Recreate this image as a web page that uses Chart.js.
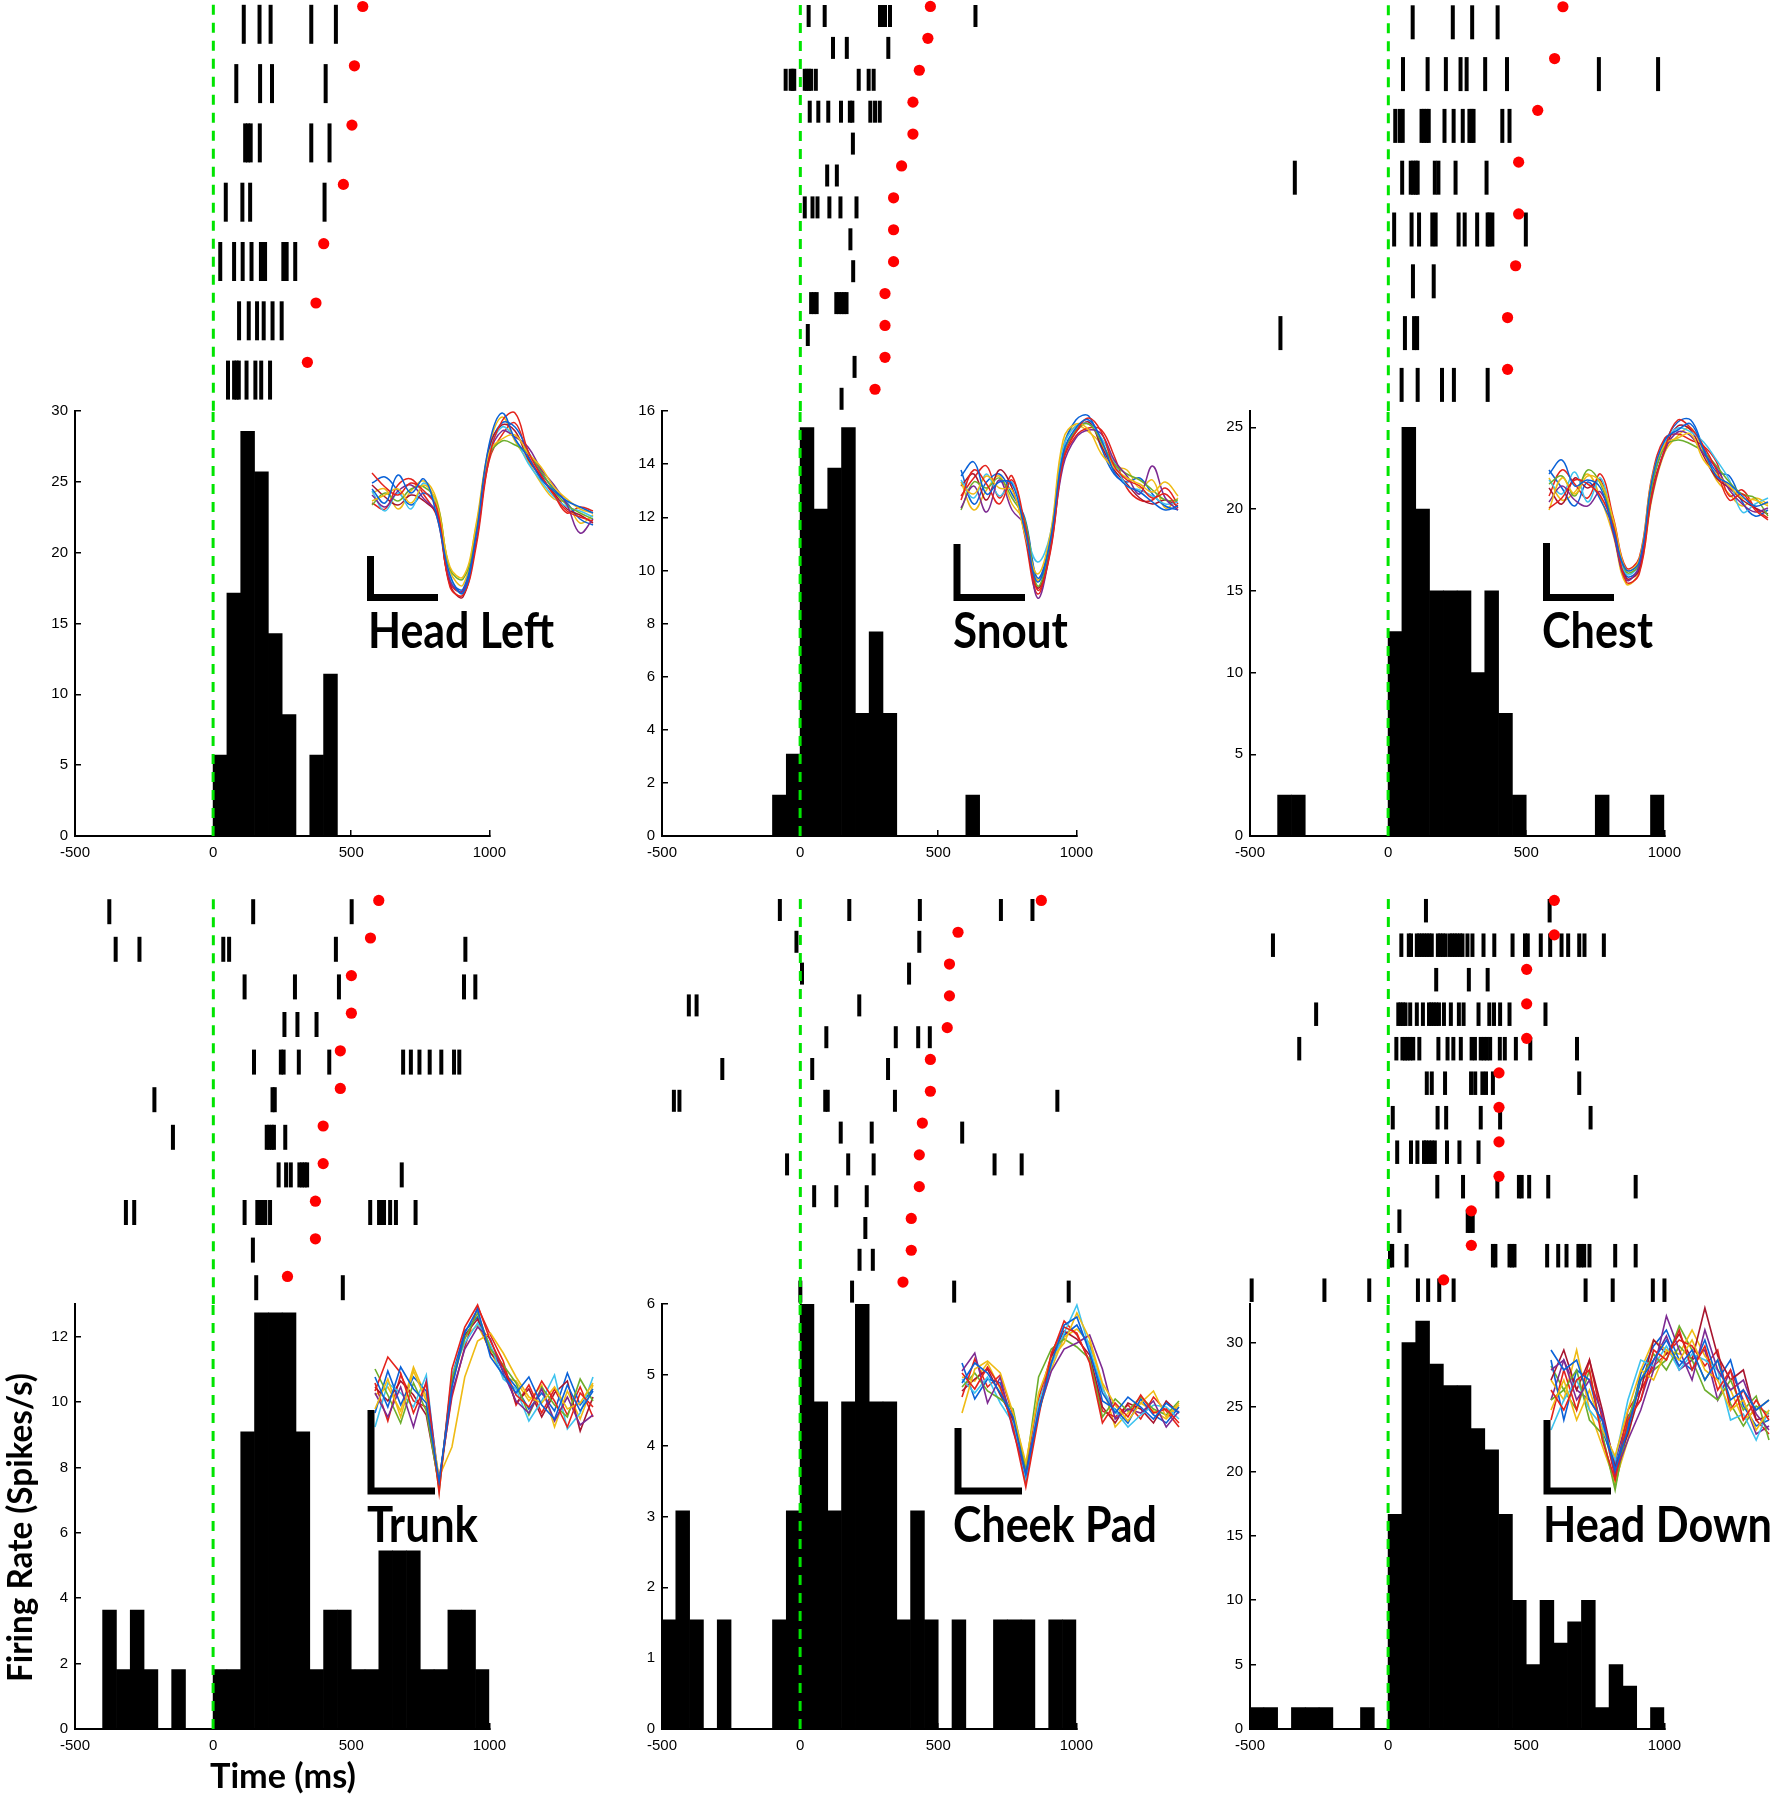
<!DOCTYPE html>
<html>
<head>
<meta charset="utf-8">
<title>Touch responses</title>
<script src="https://cdn.jsdelivr.net/npm/chart.js@4.4.1/dist/chart.umd.min.js"></script>
<style>
  html, body { margin: 0; padding: 0; background: #fff; }
  #page { position: relative; width: 1773px; height: 1800px; overflow: hidden; background: #fff; }
  #page canvas { position: absolute; }
  .lbl { position: absolute; white-space: nowrap; font-family: Lato, 'Open Sans', sans-serif; font-weight: 700; color: #000; line-height: normal; }
</style>
</head>
<body>
<div id="page"></div>
<script>
// PSTH bins (ms), 50 ms wide
const binCenters = [-475, -425, -375, -325, -275, -225, -175, -125, -75, -25, 25, 75, 125, 175, 225, 275, 325, 375, 425, 475, 525, 575, 625, 675, 725, 775, 825, 875, 925, 975];
const timeTicks = [-500, 0, 500, 1000];

// Firing rate per bin (spikes/s)
const rateHeadLeft = [0, 0, 0, 0, 0, 0, 0, 0, 0, 0, 5.71, 17.14, 28.57, 25.71, 14.29, 8.57, 0, 5.71, 11.43, 0, 0, 0, 0, 0, 0, 0, 0, 0, 0, 0];
const rateSnout = [0, 0, 0, 0, 0, 0, 0, 0, 1.54, 3.08, 15.38, 12.31, 13.85, 15.38, 4.62, 7.69, 4.62, 0, 0, 0, 0, 0, 1.54, 0, 0, 0, 0, 0, 0, 0];
const rateChest = [0, 0, 2.5, 2.5, 0, 0, 0, 0, 0, 0, 12.5, 25, 20, 15, 15, 15, 10, 15, 7.5, 2.5, 0, 0, 0, 0, 0, 2.5, 0, 0, 0, 2.5];
const rateTrunk = [0, 0, 3.64, 1.82, 3.64, 1.82, 0, 1.82, 0, 0, 1.82, 1.82, 9.09, 12.73, 12.73, 12.73, 9.09, 1.82, 3.64, 3.64, 1.82, 1.82, 5.45, 5.45, 5.45, 1.82, 1.82, 3.64, 3.64, 1.82];
const rateCheekPad = [1.54, 3.08, 1.54, 0, 1.54, 0, 0, 0, 1.54, 3.08, 6.15, 4.62, 3.08, 4.62, 6.15, 4.62, 4.62, 1.54, 3.08, 1.54, 0, 1.54, 0, 0, 1.54, 1.54, 1.54, 0, 1.54, 1.54];
const rateHeadDown = [1.67, 1.67, 0, 1.67, 1.67, 1.67, 0, 0, 1.67, 0, 16.67, 30, 31.67, 28.33, 26.67, 26.67, 23.33, 21.67, 16.67, 10, 5, 10, 6.67, 8.33, 10, 1.67, 5, 3.33, 0, 1.67];

// y tick labels
const yTicksHeadLeft = [0, 5, 10, 15, 20, 25, 30];
const yTicksSnout = [0, 2, 4, 6, 8, 10, 12, 14, 16];
const yTicksChest = [0, 5, 10, 15, 20, 25];
const yTicksTrunk = [0, 2, 4, 6, 8, 10, 12];
const yTicksCheekPad = [0, 1, 2, 3, 4, 5, 6];
const yTicksHeadDown = [0, 5, 10, 15, 20, 25, 30];

// Spike times per trial (ms)
const rasterHeadLeft = [
  [110, 167, 207, 354, 443],
  [83, 169, 212, 406],
  [115, 125, 135, 168, 354, 420],
  [45, 105, 133, 402],
  [25, 75, 106, 138, 172, 180, 187, 253, 265, 296],
  [93, 128, 158, 182, 214, 247],
  [53, 75, 84, 92, 120, 152, 173, 205]
];
const rasterSnout = [
  [30, 88, 288, 297, 306, 324, 633],
  [118, 168, 318],
  [-53, -35, -28, -22, 16, 23, 31, 39, 56, 211, 247, 265],
  [34, 65, 101, 147, 179, 188, 253, 270, 287],
  [190],
  [97, 132],
  [16, 44, 62, 105, 145, 203],
  [181],
  [191],
  [39, 49, 59, 130, 140, 149, 158, 167],
  [27],
  [196],
  [149]
];
const rasterChest = [
  [88, 233, 303, 395],
  [53, 142, 208, 261, 283, 350, 429, 761, 975],
  [25, 41, 52, 120, 129, 138, 146, 203, 236, 269, 293, 301, 308, 412, 438],
  [-338, 50, 81, 90, 99, 106, 168, 181, 243, 355],
  [21, 84, 111, 159, 171, 254, 276, 321, 359, 365, 376, 497],
  [89, 164],
  [-390, 60, 93, 104],
  [48, 106, 194, 237, 359]
];
const rasterTrunk = [
  [-376, 144, 500],
  [-353, -267, 36, 57, 443, 911],
  [113, 295, 454, 906, 947],
  [257, 304, 373],
  [147, 244, 254, 309, 419, 686, 714, 745, 782, 824, 870, 889],
  [-213, 214, 222],
  [-146, 193, 202, 211, 219, 260],
  [236, 263, 280, 311, 321, 330, 339, 681],
  [-316, -286, 113, 159, 169, 179, 188, 205, 567, 599, 608, 617, 639, 660, 731],
  [143],
  [155, 468]
];
const rasterCheekPad = [
  [-74, 177, 432, 725, 839],
  [-14, 430],
  [6, 393],
  [-403, -375, 213],
  [94, 345, 426, 468],
  [-282, 43, 317],
  [-457, -437, 90, 99, 342, 929],
  [146, 258, 585],
  [-48, 173, 265, 702, 800],
  [50, 130, 240],
  [235],
  [214, 262],
  [0, 187, 556, 970]
];
const rasterHeadDown = [
  [136, 583],
  [-417, 47, 74, 82, 103, 112, 121, 130, 139, 148, 157, 179, 188, 197, 207, 222, 231, 240, 249, 259, 268, 286, 304, 344, 383, 449, 494, 504, 551, 585, 626, 650, 690, 709, 779],
  [173, 291, 359],
  [-261, 36, 44, 53, 62, 79, 103, 125, 147, 155, 164, 173, 183, 201, 226, 255, 272, 326, 365, 382, 404, 438, 568],
  [-322, 29, 51, 60, 69, 79, 90, 112, 181, 214, 235, 262, 301, 313, 334, 345, 356, 368, 403, 421, 461, 513, 682],
  [139, 157, 205, 299, 314, 340, 353, 378, 690],
  [16, 178, 209, 334, 404, 731],
  [32, 82, 105, 129, 136, 147, 157, 168, 212, 257, 326],
  [177, 270, 394, 472, 482, 509, 578, 894],
  [40, 287, 296, 305],
  [6, 14, 66, 378, 387, 438, 447, 456, 574, 614, 644, 687, 697, 708, 727, 820, 894],
  [-494, -231, -69, 107, 144, 184, 236, 713, 811, 956, 998]
];

// Stimulus end per trial (ms), red dots
const markHeadLeft = [540, 510, 501, 470, 399, 371, 340];
const markSnout = [470, 461, 430, 407, 407, 366, 337, 337, 337, 306, 306, 306, 270];
const markChest = [631, 601, 540, 471, 471, 460, 431, 431];
const markTrunk = [598, 568, 499, 499, 459, 459, 397, 397, 369, 369, 268];
const markCheekPad = [871, 570, 539, 539, 531, 470, 470, 441, 430, 430, 401, 401, 371];
const markHeadDown = [600, 600, 500, 500, 500, 400, 400, 400, 400, 300, 300, 200];

// Spike waveforms (a sample of traces per unit, 18 samples each)
const waveHeadLeft = [
  [8, -6, 22, 4, 18, -20, -78, -96, -38, 52, 84, 58, 40, 18, 6, -4, -10, -16],
  [24, 10, 2, 14, 6, -12, -90, -98, -50, 38, 76, 84, 46, 22, 2, -14, -20, -24],
  [-4, 2, 8, -6, 12, -8, -70, -80, -30, 44, 58, 62, 44, 30, 10, -2, -12, -16],
  [2, -10, 6, 12, -2, -16, -84, -94, -46, 40, 66, 60, 50, 28, 12, -8, -36, -22],
  [-8, 4, -4, 8, 10, -6, -72, -82, -36, 40, 56, 52, 44, 26, 6, -8, -16, -22],
  [6, -14, 4, -12, 14, -14, -80, -96, -44, 42, 70, 58, 34, 16, 0, -10, -14, -20],
  [12, 0, -8, 2, -4, -18, -88, -100, -40, 48, 72, 66, 38, 20, 4, -12, -18, -26],
  [14, 20, 6, -8, 4, -10, -82, -92, -34, 46, 74, 70, 46, 24, 8, -6, -22, -28],
  [-6, -12, 12, 18, 2, -20, -86, -94, -42, 36, 62, 74, 42, 20, 2, -16, -10, -14],
  [4, 8, -12, 6, 16, -4, -74, -88, -28, 50, 80, 56, 36, 14, -2, -6, -26, -18]
];
const waveSnout = [
  [14, 28, -4, 8, 6, -40, -92, -50, 36, 62, 70, 50, 18, 4, -2, -12, -20, -16],
  [-10, 20, 6, -14, 10, -34, -100, -62, 30, 58, 72, 58, 24, 10, 4, -8, -4, -18],
  [6, -4, 14, 2, 0, -44, -84, -44, 50, 66, 60, 36, 22, 12, 6, -2, 8, -6],
  [-18, 4, -22, 10, -20, -36, -108, -60, 24, 52, 60, 56, 30, 14, -4, 24, -8, -20],
  [-20, 8, 2, 12, -8, -30, -96, -52, 34, 60, 66, 48, 26, 16, 10, 0, -10, -10],
  [10, -8, 16, -6, 8, -38, -72, -44, 42, 64, 66, 52, 28, 4, 0, -6, -14, -12],
  [4, 16, -10, 20, 2, -42, -98, -56, 36, 58, 68, 44, 20, 6, -8, -14, -10, -16],
  [20, -14, 8, 16, -4, -28, -88, -48, 40, 70, 74, 42, 16, 8, 12, -4, -16, -20],
  [-6, 12, 24, -8, 14, -46, -104, -58, 28, 54, 62, 60, 34, 2, -10, -10, 2, -14],
  [8, -20, 0, 14, -14, -32, -90, -48, 44, 64, 58, 46, 24, 20, 2, 10, -18, -8]
];
const waveChest = [
  [16, 30, 4, 10, 2, -40, -80, -72, 10, 50, 60, 66, 40, 14, 6, -6, -16, -12],
  [-18, -8, 10, 6, -6, -36, -92, -84, -4, 42, 70, 62, 44, 20, -10, -4, -20, -30],
  [-20, 12, -4, 14, 8, -30, -80, -70, 12, 46, 52, 56, 30, 16, 4, -8, -10, -16],
  [-12, 4, -10, -16, -2, -44, -90, -76, -6, 40, 58, 54, 36, 22, 0, -14, -22, -18],
  [6, 14, -6, 20, 6, -34, -82, -74, 4, 44, 50, 46, 38, 24, 8, -4, -8, -26],
  [10, -4, 18, -12, 12, -38, -84, -74, 8, 48, 62, 58, 48, 30, 10, -22, -14, -8],
  [2, -14, 12, 2, 10, -42, -88, -80, 0, 40, 64, 60, 34, 12, 2, -10, -18, -24],
  [20, 2, -16, 8, -10, -38, -86, -78, 6, 46, 68, 70, 42, 18, 14, -12, -26, -20],
  [-6, 20, 6, -8, 16, -28, -78, -68, 14, 52, 56, 50, 44, 28, -6, 0, -18, -28],
  [12, -10, -2, 16, -8, -46, -94, -82, -8, 38, 54, 62, 38, 10, -4, -16, -8, -14]
];
const waveTrunk = [
  [20, -10, 30, 8, -6, -84, 10, 64, 88, 40, 22, 4, 20, -8, -22, 12, -14, 6],
  [6, 40, 24, -16, 14, -96, 28, 70, 92, 56, 30, 2, -10, 16, -4, -30, 4, -10],
  [-12, 18, -20, 26, -4, -80, -50, 20, 56, 64, 44, 20, 0, -6, 10, -12, -6, 14],
  [4, -20, 10, -30, 16, -86, 4, 48, 70, 58, 24, -4, -16, 8, -24, 0, -28, -18],
  [28, 2, -26, 14, -14, -90, 18, 58, 84, 48, 32, 14, -18, 10, -8, -20, 18, -4],
  [-30, 14, 4, -10, 22, -92, 22, 54, 74, 52, 18, 8, -24, -4, 22, -32, -16, 20],
  [10, -4, 16, 2, -18, -88, 14, 62, 78, 44, 30, -6, 8, -20, 4, 16, -34, 0],
  [-16, 26, -8, 20, 6, -90, 20, 66, 80, 50, 26, 10, -12, 4, -14, 24, -8, 8],
  [14, -24, 22, -4, -10, -82, 0, 50, 90, 62, 36, -8, 12, -16, 8, -18, 10, -20],
  [2, 10, -14, 30, 0, -94, 12, 60, 72, 46, 20, 16, -4, 12, -30, 6, -22, 12]
];
const waveCheekPad = [
  [0, 20, 10, -10, -34, -92, -30, 20, 58, 66, 30, -10, -30, -14, -24, -36, -20, -30],
  [10, -6, 16, -4, -44, -104, -34, 30, 56, 50, 20, -40, -20, -34, -12, -30, -26, -40],
  [-30, 14, 22, 10, -30, -80, -10, 24, 40, 70, 44, 0, -22, -38, -20, -8, -34, -20],
  [12, 30, -20, 6, -48, -90, -28, 12, 34, 40, 48, 14, -36, -26, -30, -18, -44, -28],
  [-4, 10, -8, -16, -26, -86, 6, 34, 44, 36, 24, -34, -16, -28, -14, -26, -32, -18],
  [4, -10, 6, -20, -40, -96, -20, 18, 50, 78, 34, -6, -28, -44, -32, -22, -24, -36],
  [-8, 4, 14, -12, -36, -98, -26, 26, 52, 44, 28, -24, -40, -20, -26, -40, -18, -30],
  [20, -16, 4, 0, -38, -94, -24, 22, 48, 58, 36, -18, -26, -40, -16, -32, -40, -24],
  [-14, 24, -4, 8, -32, -88, -16, 28, 62, 48, 22, -28, -34, -22, -36, -14, -28, -44],
  [6, 2, 20, -6, -42, -100, -30, 14, 46, 54, 40, -2, -44, -30, -20, -28, -36, -22]
];
const waveHeadDown = [
  [40, 20, 30, -10, -30, -80, -40, 10, 30, 50, 24, 40, 10, 30, -10, 0, -20, -10],
  [0, -20, 10, 20, -50, -90, -30, -10, 40, 30, 60, 20, 44, 0, 20, -30, -10, -30],
  [-20, 10, -30, 0, -40, -66, -20, 20, 10, 40, 30, 50, 20, 10, -20, -10, -40, -20],
  [20, 30, -10, 10, -24, -84, -50, -20, 20, 74, 40, 10, 60, 20, 0, 10, -24, -40],
  [-10, 0, 20, -30, -44, -100, -30, 10, 36, 20, 44, 30, 0, -10, 10, -20, -6, -50],
  [-40, -10, 10, -20, -36, -70, -10, 30, 24, 44, 20, 36, 30, 20, -30, -24, -50, -20],
  [10, 40, 0, 30, -20, -78, -44, 0, 50, 36, 56, 30, 82, 34, 10, 20, -30, -26],
  [30, -30, 20, 10, -40, -76, -36, 16, 44, 60, 30, 20, 50, 10, 30, -16, -36, -30],
  [-30, 20, -20, 30, -30, -88, -20, 0, 24, 36, 50, 44, 24, 40, -20, 0, -30, -44],
  [10, -10, 40, -20, -56, -92, -50, 20, 50, 40, 36, 60, 34, 20, 0, -30, -20, -10],
  [-10, 30, 0, -10, -30, -72, -26, -10, 30, 54, 20, 30, 40, -10, 20, -10, -44, -36],
  [24, 0, -20, 20, -46, -96, -40, 10, 20, 30, 64, 40, 10, 30, -14, -36, -16, -24]
];

const GREEN = '#00e400';
const DOT_RED = '#ff0000';
const TRACE_COLORS = ['#0a62d8', '#e4231c', '#efbb14', '#7d2a92', '#6cae2c', '#3ec3ef', '#a8142e'];
const DOT_LIFT = 0.3;
const YW = 60, PT = 14, PR = 30, XH = 30;

const panels = [
  { name: 'Head Left', rate: rateHeadLeft, yMax: 30, yTicks: yTicksHeadLeft, spikes: rasterHeadLeft, marks: markHeadLeft, waves: waveHeadLeft, smooth: true,
    L: 75, R: 490, rasterTop: 0, histTop: 411, histBottom: 836, row1: 24.3, rowStep: 59.3, tickLen: 39,
    wave: { x0: 372, x1: 593, base: 497, barX: 370.5, barTop: 556, barY: 597.5, barRight: 438 },
    label: { x: 368, baseline: 648, width: 186 } },
  { name: 'Snout', rate: rateSnout, yMax: 16, yTicks: yTicksSnout, spikes: rasterSnout, marks: markSnout, waves: waveSnout, smooth: true,
    L: 662, R: 1077, rasterTop: 0, histTop: 411, histBottom: 836, row1: 16, rowStep: 31.9, tickLen: 22,
    wave: { x0: 961, x1: 1178, base: 490, barX: 957, barTop: 544, barY: 597.5, barRight: 1025 },
    label: { x: 953, baseline: 648, width: 115 } },
  { name: 'Chest', rate: rateChest, yMax: 26, yTicks: yTicksChest, spikes: rasterChest, marks: markChest, waves: waveChest, smooth: true,
    L: 1250, R: 1665, rasterTop: 0, histTop: 411, histBottom: 836, row1: 22.3, rowStep: 51.8, tickLen: 34,
    wave: { x0: 1549, x1: 1768, base: 490, barX: 1546.5, barTop: 543, barY: 597.5, barRight: 1614 },
    label: { x: 1542, baseline: 648, width: 111 } },
  { name: 'Trunk', rate: rateTrunk, yMax: 13, yTicks: yTicksTrunk, spikes: rasterTrunk, marks: markTrunk, waves: waveTrunk, smooth: false,
    L: 75, R: 490, rasterTop: 880, histTop: 1304, histBottom: 1729, row1: 911.7, rowStep: 37.6, tickLen: 25,
    wave: { x0: 375, x1: 593, base: 1397, barX: 371, barTop: 1410, barY: 1491, barRight: 435 },
    label: { x: 367, baseline: 1542, width: 111 } },
  { name: 'Cheek Pad', rate: rateCheekPad, yMax: 6, yTicks: yTicksCheekPad, spikes: rasterCheekPad, marks: markCheekPad, waves: waveCheekPad, smooth: false,
    L: 662, R: 1077, rasterTop: 880, histTop: 1304, histBottom: 1729, row1: 910, rowStep: 31.8, tickLen: 22,
    wave: { x0: 962, x1: 1179, base: 1383, barX: 958, barTop: 1428, barY: 1491, barRight: 1022 },
    label: { x: 953, baseline: 1542, width: 204 } },
  { name: 'Head Down', rate: rateHeadDown, yMax: 33, yTicks: yTicksHeadDown, spikes: rasterHeadDown, marks: markHeadDown, waves: waveHeadDown, smooth: false,
    L: 1250, R: 1665, rasterTop: 880, histTop: 1304, histBottom: 1729, row1: 910.7, rowStep: 34.5, tickLen: 23.5,
    wave: { x0: 1551, x1: 1769, base: 1390, barX: 1547, barTop: 1420, barY: 1491, barRight: 1611 },
    label: { x: 1543, baseline: 1542, width: 229 } }
];

Chart.defaults.animation = false;
Chart.defaults.responsive = false;
Chart.defaults.maintainAspectRatio = false;
Chart.defaults.devicePixelRatio = 1;
Chart.defaults.font.family = "'Liberation Sans', Arial, sans-serif";
Chart.defaults.font.size = 15;
Chart.defaults.color = '#000';
Chart.defaults.plugins.legend.display = false;
Chart.defaults.plugins.tooltip.enabled = false;

const page = document.getElementById('page');

function addCanvas(left, top, w, h) {
  const c = document.createElement('canvas');
  c.width = w;
  c.height = h;
  c.style.left = left + 'px';
  c.style.top = top + 'px';
  c.style.width = w + 'px';
  c.style.height = h + 'px';
  page.appendChild(c);
  return c.getContext('2d');
}

// Raster of spike ticks above the histogram
function drawRaster(p) {
  const w = (p.R - p.L) + YW + PR;
  const h = p.histTop - p.rasterTop;
  const ctx = addCanvas(p.L - YW, p.rasterTop, w, h);
  const yMin = 1 - (p.row1 - p.rasterTop) / p.rowStep;
  const yMax = yMin + h / p.rowStep;
  const half = p.tickLen / 2 / p.rowStep;
  const ticks = [];
  p.spikes.forEach((trial, i) => trial.forEach(t => ticks.push({ x: t, y: i + 1 })));
  const dots = p.marks.map((t, i) => ({ x: t, y: i + 1 - DOT_LIFT }));

  new Chart(ctx, {
    type: 'scatter',
    data: {
      datasets: [
        { type: 'line', data: [{ x: 0, y: 1 - half }, { x: 0, y: yMax }], borderColor: GREEN, borderWidth: 3,
          borderDash: [10, 8], pointRadius: 0, order: 0, clip: false },
        { data: dots, pointStyle: 'circle', pointRadius: 5.6, pointBackgroundColor: DOT_RED,
          pointBorderWidth: 0, order: 1, clip: false },
        { data: ticks, pointStyle: 'line', pointRotation: 90, pointRadius: p.tickLen / 2,
          pointBorderColor: '#000', pointBorderWidth: 4, order: 2, clip: false }
      ]
    },
    options: {
      events: [],
      layout: { autoPadding: false, padding: { top: 0, right: PR, bottom: 0, left: 0 } },
      scales: {
        x: { type: 'linear', min: -500, max: 1000, display: false },
        y: { type: 'linear', min: yMin, max: yMax, reverse: true,
             afterFit: s => { s.width = YW; },
             grid: { display: false }, border: { display: false }, ticks: { display: false } }
      }
    }
  });
}

// Peri-stimulus time histogram
function drawHistogram(p) {
  const w = (p.R - p.L) + YW + PR;
  const h = (p.histBottom - p.histTop) + PT + XH;
  const ctx = addCanvas(p.L - YW, p.histTop - PT, w, h);
  const axisGrid = { display: true, drawOnChartArea: false, drawTicks: true, tickLength: -6, color: '#000', lineWidth: 1.5, offset: false };
  const axisBorder = { display: true, color: '#000', width: 2 };

  const chart = new Chart(ctx, {
    type: 'bar',
    data: {
      datasets: [
        { type: 'line', data: [{ x: 0, y: 0 }, { x: 0, y: p.yMax }], borderColor: GREEN, borderWidth: 3,
          borderDash: [10, 8], pointRadius: 0, order: 0 },
        { type: 'bar', data: binCenters.map((x, i) => ({ x: x, y: p.rate[i] })), backgroundColor: '#000',
          borderWidth: 0, barPercentage: 1, categoryPercentage: 1, grouped: false, order: 1 }
      ]
    },
    options: {
      events: [],
      layout: { autoPadding: false, padding: { top: PT, right: PR, bottom: 0, left: 0 } },
      scales: {
        x: { type: 'linear', min: -500, max: 1000, offset: false,
             afterBuildTicks: s => { s.ticks = timeTicks.map(v => ({ value: v })); },
             afterFit: s => { s.height = XH; },
             grid: axisGrid, border: axisBorder,
             ticks: { padding: 14, maxRotation: 0, autoSkip: false, callback: v => String(v) } },
        y: { type: 'linear', min: 0, max: p.yMax,
             afterBuildTicks: s => { s.ticks = p.yTicks.map(v => ({ value: v })); },
             afterFit: s => { s.width = YW; },
             grid: axisGrid, border: axisBorder,
             ticks: { padding: 13, autoSkip: false, callback: v => String(v) } }
      }
    }
  });

  // the top tick label adds its own room; pull the canvas up so the plot box lands where it should
  const shift = Math.round(chart.chartArea.top - PT);
  if (shift > 0) {
    ctx.canvas.style.top = (p.histTop - PT - shift) + 'px';
    chart.resize(w, h + shift);
  }
}

// Waveform inset with its scale bar
function drawWaveforms(p) {
  const wv = p.wave;
  const n = p.waves[0].length;
  const dx = (wv.x1 - wv.x0) / (n - 1);
  const left = Math.floor(wv.barX - 10);
  const right = Math.min(Math.ceil(wv.x1 + 8), 1773);
  const top = Math.floor(wv.base - 118);
  const bottom = Math.ceil(wv.barY + 12);
  const ctx = addCanvas(left, top, right - left, bottom - top);
  const toX = px => (px - wv.x0) / dx;
  const toY = py => wv.base - py;

  const datasets = [{
    data: [{ x: toX(wv.barX), y: toY(wv.barTop) }, { x: toX(wv.barX), y: toY(wv.barY) }, { x: toX(wv.barRight), y: toY(wv.barY) }],
    borderColor: '#000', borderWidth: 7, pointRadius: 0, borderJoinStyle: 'miter', borderCapStyle: 'butt', clip: false
  }];
  p.waves.forEach((trace, k) => {
    datasets.push({
      data: trace.map((v, i) => ({ x: i, y: v })),
      borderColor: TRACE_COLORS[k % TRACE_COLORS.length],
      borderWidth: p.smooth ? 1.5 : 1.6,
      pointRadius: 0,
      tension: p.smooth ? 0.4 : 0,
      clip: false
    });
  });

  new Chart(ctx, {
    type: 'line',
    data: { datasets: datasets },
    options: {
      events: [],
      layout: { autoPadding: false, padding: 0 },
      scales: {
        x: { type: 'linear', min: toX(left), max: toX(right), display: false },
        y: { type: 'linear', min: toY(bottom), max: toY(top), display: false }
      }
    }
  });
}

// Text placed by its baseline, squeezed to the measured width
function addText(text, x, baseline, width, size, angle) {
  const div = document.createElement('div');
  div.className = 'lbl';
  div.style.fontSize = size + 'px';
  const span = document.createElement('span');
  span.textContent = text;
  const mark = document.createElement('span');
  mark.style.cssText = 'display:inline-block;width:0;height:0;';
  div.appendChild(span);
  div.appendChild(mark);
  page.appendChild(div);
  const base = mark.offsetTop;
  const k = width / span.getBoundingClientRect().width;
  div.style.left = x + 'px';
  div.style.top = (baseline - base) + 'px';
  div.style.transformOrigin = '0 ' + base + 'px';
  div.style.transform = 'rotate(' + angle + 'deg) scaleX(' + k + ')';
}

panels.forEach(p => {
  drawRaster(p);
  drawHistogram(p);
  drawWaveforms(p);
  addText(p.name, p.label.x, p.label.baseline, p.label.width, 50, 0);
});

addText('Time (ms)', 210, 1788, 146, 35, 0);
addText('Firing Rate (Spikes/s)', 32, 1682, 309, 35, -90);
</script>
</body>
</html>
